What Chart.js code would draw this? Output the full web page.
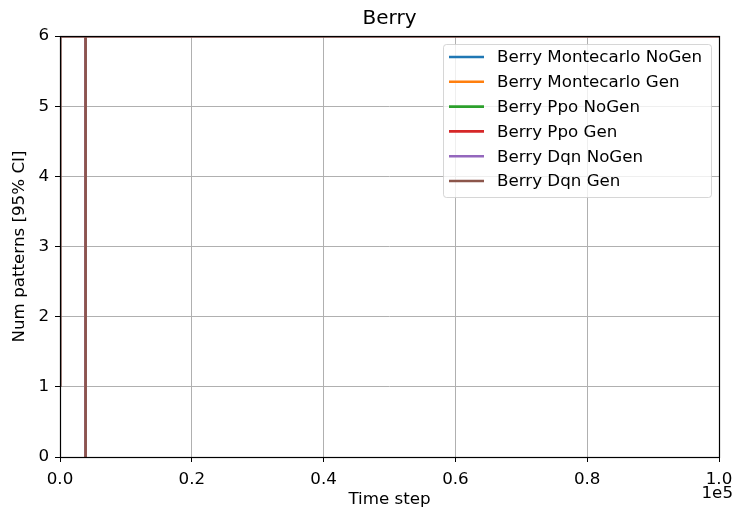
<!DOCTYPE html>
<html>
<head>
<meta charset="utf-8">
<script src="https://cdn.jsdelivr.net/npm/chart.js@4.4.1/dist/chart.umd.min.js"></script>
<style>
  html, body { margin: 0; padding: 0; background: #ffffff; }
  #wrap { width: 735px; height: 514px; position: relative; }
</style>
</head>
<body>
<div id="wrap"><canvas id="c" width="735" height="514"></canvas></div>
<script>
// Series names and tab10 colours
const seriesNames = [
  'Berry Montecarlo NoGen',
  'Berry Montecarlo Gen',
  'Berry Ppo NoGen',
  'Berry Ppo Gen',
  'Berry Dqn NoGen',
  'Berry Dqn Gen'
];
const seriesColors = ['#1f77b4', '#ff7f0e', '#2ca02c', '#d62728', '#9467bd', '#8c564b'];

// Time steps and pattern counts (identical for every run)
const timeSteps   = [0, 0, 3900, 3900, 3900, 100000];
const numPatterns = [1.0, 6, 6, 0, 6, 6];

// Axis ticks
const xTicks = [0, 20000, 40000, 60000, 80000, 100000];
const yTicks = [0, 1, 2, 3, 4, 5, 6];

const FONT = 'DejaVu Sans';
const FS = 16.7;

const datasets = seriesNames.map((name, i) => ({
  label: name,
  data: timeSteps.map((t, k) => ({ x: t, y: numPatterns[k] })),
  borderColor: seriesColors[i],
  backgroundColor: seriesColors[i],
  borderWidth: 2.4,
  pointRadius: 0,
  showLine: true,
  fill: false,
  tension: 0,
  order: seriesNames.length - i   // later series drawn on top
}));

const decorPlugin = {
  id: 'decor',
  afterDraw(chart) {
    const ctx = chart.ctx;
    const a = chart.chartArea;
    ctx.save();
    // frame
    ctx.strokeStyle = '#000';
    ctx.lineWidth = 1.2;
    ctx.strokeRect(Math.round(a.left) + 0.5, Math.round(a.top) + 0.5,
                   Math.round(a.right - a.left), Math.round(a.bottom - a.top));
    // title
    ctx.fillStyle = '#000';
    ctx.font = '20px ' + FONT;
    ctx.textAlign = 'center';
    ctx.textBaseline = 'middle';
    ctx.fillText('Berry', (a.left + a.right) / 2, 19);
    // offset label for x axis
    ctx.font = FS + 'px ' + FONT;
    ctx.textAlign = 'right';
    ctx.fillText('1e5', 733, 494);
    // legend
    const lx = 443, ly = 44, lw = 268, lh = 153;
    ctx.globalAlpha = 0.8;
    ctx.fillStyle = '#fff';
    ctx.strokeStyle = '#cccccc';
    ctx.lineWidth = 1;
    ctx.beginPath();
    ctx.roundRect(lx + 0.5, ly + 0.5, lw, lh, 3);
    ctx.fill();
    ctx.stroke();
    ctx.globalAlpha = 1;
    ctx.font = FS + 'px ' + FONT;
    ctx.textAlign = 'left';
    ctx.textBaseline = 'middle';
    seriesNames.forEach((name, i) => {
      const y = 57 + i * 24.8;
      ctx.strokeStyle = seriesColors[i];
      ctx.lineWidth = 2.6;
      ctx.beginPath();
      ctx.moveTo(449, y);
      ctx.lineTo(484, y);
      ctx.stroke();
      ctx.fillStyle = '#000';
      ctx.fillText(name, 497, y + 1);
    });
    ctx.restore();
  }
};

new Chart(document.getElementById('c'), {
  type: 'scatter',
  data: { datasets },
  plugins: [decorPlugin],
  options: {
    responsive: false,
    animation: false,
    layout: { padding: { top: 36, right: 16, left: 0, bottom: 0 } },
    plugins: { legend: { display: false }, tooltip: { enabled: false }, title: { display: false } },
    scales: {
      x: {
        type: 'linear',
        min: 0,
        max: 100000,
        afterBuildTicks(scale) { scale.ticks = xTicks.map(v => ({ value: v })); },
        afterFit(scale) { scale.height = 57; scale.paddingLeft = 0; scale.paddingRight = 0; },
        border: { display: false },
        grid: { color: '#b0b0b0', lineWidth: 1, tickColor: '#000', tickLength: 5 },
        ticks: {
          color: '#000',
          font: { family: FONT, size: FS },
          maxRotation: 0,
          padding: 8,
          callback: v => (v / 1e5).toFixed(1)
        },
        title: {
          display: true,
          text: 'Time step',
          color: '#000',
          font: { family: FONT, size: FS },
          padding: { top: 0, bottom: 4 }
        }
      },
      y: {
        type: 'linear',
        min: 0,
        max: 6,
        afterBuildTicks(scale) { scale.ticks = yTicks.map(v => ({ value: v })); },
        afterFit(scale) { scale.width = 60; scale.paddingTop = 0; scale.paddingBottom = 0; },
        border: { display: false },
        grid: { color: '#b0b0b0', lineWidth: 1, tickColor: '#000', tickLength: 5 },
        ticks: {
          color: '#000',
          font: { family: FONT, size: FS },
          padding: 6,
          callback: v => String(v)
        },
        title: {
          display: true,
          text: 'Num patterns [95% CI]',
          color: '#000',
          font: { family: FONT, size: FS },
          padding: { top: 10, bottom: 0 }
        }
      }
    }
  }
});
</script>
</body>
</html>
